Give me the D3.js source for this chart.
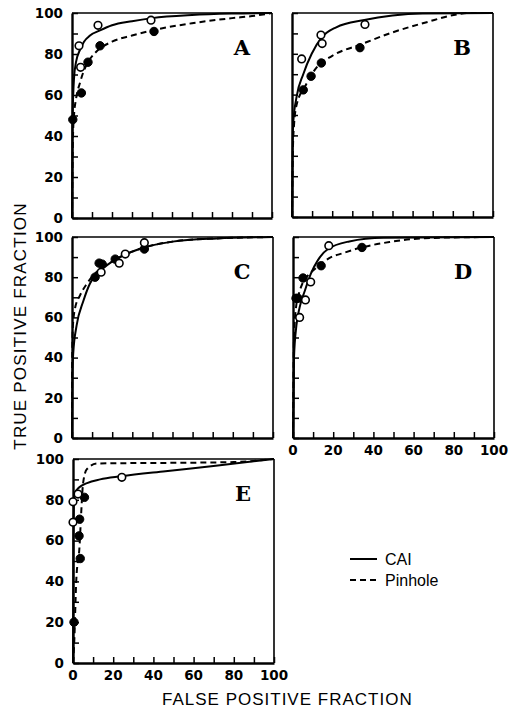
<!DOCTYPE html>
<html>
<head>
<meta charset="utf-8">
<script src="https://cdn.jsdelivr.net/npm/d3@7"></script>
<style>
  html, body { margin: 0; padding: 0; background: #fff; }
  svg { display: block; }
  text { fill: #000; }
</style>
</head>
<body>
<svg id="chart" width="509" height="710"></svg>
<script>
// ---------- DATA ----------
const axisTicks = [0, 10, 20, 30, 40, 50, 60, 70, 80, 90, 100];
const tickLabels = [0, 20, 40, 60, 80, 100];
const seriesNames = ["CAI", "Pinhole"];
const panelLetters = ["A", "B", "C", "D", "E"];

// Panel A
const caiCurveA = [[0,0],[0.2,45],[0.6,60],[1,68],[2,76],[4,82],[6,86],[9,89],[14,91.5],[20,94],[30,96],[40,97.5],[60,99],[80,99.7],[100,100]];
const pinCurveA = [[0,0],[0.5,40],[1,50],[2,58],[4,66],[6,72],[8,76],[12,81],[20,86],[30,89],[40,91.5],[60,95],[80,97.5],[90,98.5],[100,100]];
const caiPtsA = [[3.5,84],[4.3,73.5],[13,94],[39.5,96.5]];
const pinPtsA = [[0.4,48],[4.7,61],[8,76],[14,84],[41,91]];

// Panel B
const caiCurveB = [[0,0],[0.3,35],[0.6,46],[2.3,59],[5.6,70],[9.8,80],[14.8,88],[22,93],[36,96.6],[50,98.8],[65,99.8],[100,100]];
const pinCurveB = [[0,0],[0.5,35],[1,45],[2.3,55],[6.5,64],[12,73],[20,79],[34,84.5],[50,90.5],[67,95.5],[82,99.3],[88,100],[100,100]];
const caiPtsB = [[4.8,77.5],[14.4,89.2],[15,85],[36.3,94.4]];
const pinPtsB = [[5.6,62.3],[9.5,69],[14.6,75.5],[33.8,83]];

// Panel C
const caiCurveC = [[0,0],[0.2,30],[0.6,42],[2.3,56],[5.6,68],[9,77],[14,83],[22,89],[35,94.5],[50,97.7],[72,99.3],[100,100]];
const pinCurveC = [[0,0],[0.1,40],[0.4,55],[1.5,64.5],[4,71],[7.6,77],[10.6,81],[14,84],[22,89],[35,94.5],[50,97.7],[72,99.3],[100,100]];
const caiPtsC = [[14.5,82.5],[23.5,87],[26.5,91.5],[36,97.2]];
const pinPtsC = [[11.5,80],[13.5,87],[15,86.5],[21.5,89],[36,94]];

// Panel D
const caiCurveD = [[0,0],[0.5,40],[1.7,56],[3.3,65],[5.8,73],[9,82],[12.4,88.5],[17.4,94],[28,97.8],[45,99.6],[100,100]];
const pinCurveD = [[0,0],[0.5,50],[1.5,65],[3,72],[5,77.5],[8,81.5],[11.6,84.6],[18,89.5],[25,92],[33,94.5],[48,97.5],[60,99],[80,99.8],[100,100]];
const caiPtsD = [[3.3,60],[6.2,68.7],[8.8,77.6],[17.8,95.7]];
const pinPtsD = [[1.5,69.5],[2.5,69.5],[5,79.6],[14,85.7],[34.3,94.8]];

// Panel E
const caiCurveE = [[0,0],[0.2,60],[0.5,80],[1,83.5],[3,86],[7,88.2],[13.5,90],[24,91.5],[46,94],[71,96.7],[100,100]];
const pinCurveE = [[0,0],[0.6,10],[1.6,40],[3.3,58],[4.1,74],[5,88],[6.9,95],[12,97.8],[30,98],[60,98.2],[80,98.5],[100,100]];
const caiPtsE = [[0,79],[0,69],[2.5,82.8],[24.3,91]];
const pinPtsE = [[0.5,20],[3,62.3],[3.3,70.5],[3.6,51.2],[5.7,81.2]];

// ---------- LAYOUT ----------
const panels = [
  { letter: panelLetters[0], x: 72,  y: 13,  w: 200, h: 205, cai: caiCurveA, pin: pinCurveA, caiPts: caiPtsA, pinPts: pinPtsA, yLabels: true,  xLabels: false },
  { letter: panelLetters[1], x: 292, y: 13,  w: 201, h: 204, cai: caiCurveB, pin: pinCurveB, caiPts: caiPtsB, pinPts: pinPtsB, yLabels: false, xLabels: false },
  { letter: panelLetters[2], x: 72,  y: 237, w: 201, h: 201, cai: caiCurveC, pin: pinCurveC, caiPts: caiPtsC, pinPts: pinPtsC, yLabels: true,  xLabels: false },
  { letter: panelLetters[3], x: 293, y: 237, w: 201, h: 201, cai: caiCurveD, pin: pinCurveD, caiPts: caiPtsD, pinPts: pinPtsD, yLabels: false, xLabels: true },
  { letter: panelLetters[4], x: 73,  y: 459, w: 201, h: 204, cai: caiCurveE, pin: pinCurveE, caiPts: caiPtsE, pinPts: pinPtsE, yLabels: true,  xLabels: true }
];

const svg = d3.select("#chart");
const tickFont = "'DejaVu Sans', sans-serif";
const dash = "6,4";

panels.forEach(p => {
  const g = svg.append("g").attr("transform", `translate(${p.x},${p.y})`);
  const x = d3.scaleLinear().domain([0, 100]).range([0, p.w]);
  const y = d3.scaleLinear().domain([0, 100]).range([p.h, 0]);

  g.append("line").attr("x1", 0).attr("x2", p.w).attr("y1", 0).attr("y2", 0)
    .attr("stroke", "#000").attr("stroke-width", 1.6);
  g.append("line").attr("x1", p.w).attr("x2", p.w).attr("y1", 0).attr("y2", p.h)
    .attr("stroke", "#000").attr("stroke-width", 1.6);

  const xAxis = d3.axisBottom(x).tickValues(axisTicks).tickSizeInner(-6).tickSizeOuter(0).tickFormat("");
  const gx = g.append("g").attr("transform", `translate(0,${p.h})`).call(xAxis);
  gx.select(".domain").attr("stroke-width", 2.4);
  gx.selectAll(".tick line").attr("stroke-width", 1.5);

  const yAxis = d3.axisLeft(y).tickValues(axisTicks).tickSizeInner(-6).tickSizeOuter(0).tickFormat("");
  const gy = g.append("g").call(yAxis);
  gy.select(".domain").attr("stroke-width", 2.4);
  gy.selectAll(".tick line").attr("stroke-width", 1.5);

  if (p.yLabels) {
    g.selectAll(".ylab").data(tickLabels).enter().append("text")
      .attr("x", -9).attr("y", d => y(d)).attr("dy", "0.36em")
      .attr("text-anchor", "end").attr("fill", "#000")
      .attr("font-family", tickFont).attr("font-weight", "bold").attr("font-size", 13.5)
      .text(d => d);
  }
  if (p.xLabels) {
    g.selectAll(".xlab").data(tickLabels).enter().append("text")
      .attr("x", d => x(d)).attr("y", p.h + 17)
      .attr("text-anchor", "middle").attr("fill", "#000")
      .attr("font-family", tickFont).attr("font-weight", "bold").attr("font-size", 13.5)
      .text(d => d);
  }

  const line = d3.line().x(d => x(d[0])).y(d => y(d[1])).curve(d3.curveMonotoneX);

  g.append("path").datum(p.pin).attr("d", line)
    .attr("fill", "none").attr("stroke", "#000").attr("stroke-width", 2).attr("stroke-dasharray", dash);
  g.append("path").datum(p.cai).attr("d", line)
    .attr("fill", "none").attr("stroke", "#000").attr("stroke-width", 2);

  g.selectAll(".pinpt").data(p.pinPts).enter().append("circle")
    .attr("cx", d => x(d[0])).attr("cy", d => y(d[1])).attr("r", 4.2)
    .attr("fill", "#000").attr("stroke", "#000").attr("stroke-width", 1);
  g.selectAll(".caipt").data(p.caiPts).enter().append("circle")
    .attr("cx", d => x(d[0])).attr("cy", d => y(d[1])).attr("r", 3.8)
    .attr("fill", "#fff").attr("stroke", "#000").attr("stroke-width", 1.6);

  g.append("text").attr("x", 170).attr("y", 42)
    .attr("text-anchor", "middle").attr("fill", "#000")
    .attr("font-family", "'DejaVu Serif', serif").attr("font-weight", "bold").attr("font-size", 21)
    .text(p.letter);
});

svg.append("text")
  .attr("transform", "translate(26,326) rotate(-90)")
  .attr("text-anchor", "middle").attr("fill", "#000")
  .attr("font-family", "'Liberation Sans', Arial, sans-serif").attr("font-size", 17)
  .attr("letter-spacing", 1.2)
  .text("TRUE POSITIVE FRACTION");

svg.append("text")
  .attr("x", 162).attr("y", 705)
  .attr("text-anchor", "start").attr("fill", "#000")
  .attr("font-family", "'Liberation Sans', Arial, sans-serif").attr("font-size", 17)
  .attr("letter-spacing", 1)
  .text("FALSE POSITIVE FRACTION");

const legend = svg.append("g").attr("transform", "translate(350,559)");
seriesNames.forEach((name, i) => {
  const row = legend.append("g").attr("transform", `translate(0,${i * 21})`);
  row.append("line").attr("x1", 0).attr("x2", 27).attr("y1", 0).attr("y2", 0)
    .attr("stroke", "#000").attr("stroke-width", 2)
    .attr("stroke-dasharray", i === 1 ? dash : null);
  row.append("text").attr("x", 35).attr("y", 0).attr("dy", "0.36em").attr("fill", "#000")
    .attr("font-family", "'Liberation Sans', Arial, sans-serif").attr("font-size", 16)
    .text(name);
});
</script>
</body>
</html>
